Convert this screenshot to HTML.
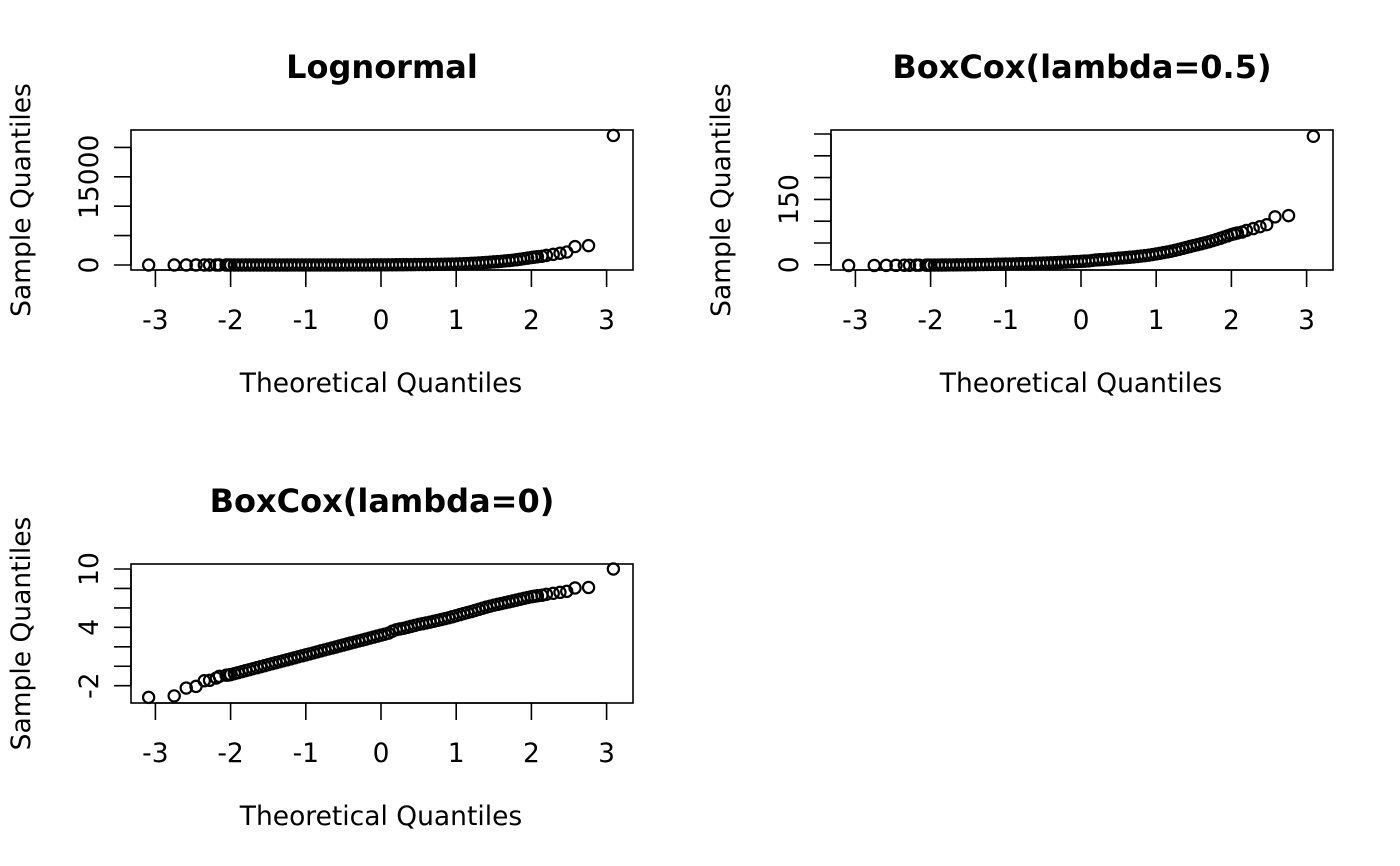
<!DOCTYPE html>
<html><head><meta charset="utf-8"><style>
html,body{margin:0;padding:0;background:#fff;}
svg{display:block;font-family:"DejaVu Sans","Liberation Sans",sans-serif;}
</style></head><body>
<svg id="chart" width="1400" height="866" viewBox="0 0 1400 866"></svg>
<script>
const theoQ = [-3.09,-2.75,-2.59,-2.46,-2.35,-2.28,-2.19,-2.15,-2.06,
-2.0,-1.9,-1.8,-1.7,-1.6,-1.5,-1.4,-1.3,-1.2,-1.1,-1.0,-0.9,-0.8,-0.7,-0.6,-0.5,-0.4,-0.3,-0.2,-0.1,0,
0.1,0.2,0.3,0.4,0.5,0.6,0.7,0.8,0.9,1.0,1.1,1.2,1.3,1.4,1.5,1.6,1.7,1.8,1.9,2.0,
2.14,2.20,2.29,2.38,2.47,2.58,2.76,3.09,
-1.95,-1.85,-1.75,-1.65,-1.55,-1.45,-1.35,-1.25,-1.15,-1.05,-0.95,-0.85,-0.75,-0.65,-0.55,-0.45,-0.35,-0.25,-0.15,-0.05,
0.05,0.15,0.25,0.35,0.45,0.55,0.65,0.75,0.85,0.95,1.05,1.15,1.25,1.35,1.45,1.55,1.65,1.75,1.85,1.95,
2.04,2.08,-2.03];
const lognormalVals = [0.04,0.05,0.11,0.13,0.23,0.23,0.3,0.35,0.40,
0.42,0.52,0.64,0.78,0.95,1.17,1.43,1.75,2.14,2.64,3.22,3.94,4.85,5.93,7.24,8.94,10.9,13.3,16.3,20.1,24.5,
30.0,42.5,49.4,60.3,73.7,85.6,101,122,145,181,226,276,347,437,534,633,750,898,1075,1274,
1480,1636,1808,1998,2208,3134,3294,22026,
0.47,0.574,0.705,0.861,1.057,1.30,1.58,1.93,2.375,2.915,3.56,4.37,5.37,6.55,8.04,9.87,12.06,14.73,18.08,22.2,
27.1,36.6,46.1,54.6,66.7,79.4,93.2,111,133,162,202,250,310,390,483,581,688,821,982,1170,
1339,1408,0.41];
const boxcoxHalfVals = [-1.6,-1.55,-1.34,-1.28,-1.04,-1.03,-0.9,-0.82,-0.74,
-0.7,-0.56,-0.4,-0.23,-0.05,0.16,0.39,0.65,0.93,1.25,1.59,1.97,2.4,2.87,3.38,3.98,4.6,5.3,6.07,6.97,7.9,
8.95,11.04,12.06,13.53,15.17,16.5,18.1,20.1,22.08,24.9,28.06,31.2,35.26,39.8,44.2,48.3,52.8,57.9,63.6,69.4,
75,78.9,83,87.4,92,110,112.8,294.8,
-0.63,-0.48,-0.32,-0.14,0.06,0.28,0.52,0.78,1.08,1.41,1.77,2.18,2.63,3.12,3.67,4.28,4.95,5.68,6.5,7.42,
8.42,10.1,11.58,12.78,14.33,15.82,17.31,19.08,21.06,23.48,26.44,29.6,33.2,37.5,41.96,46.2,50.46,55.3,60.7,66.4,
71.2,73.0,-0.72];
const boxcoxZeroVals = [-3.2,-3.05,-2.24,-2.07,-1.49,-1.45,-1.21,-1.04,-0.92,
-0.86,-0.66,-0.45,-0.25,-0.05,0.16,0.36,0.56,0.76,0.97,1.17,1.37,1.58,1.78,1.98,2.19,2.39,2.59,2.79,3.0,3.2,
3.4,3.75,3.9,4.1,4.3,4.45,4.62,4.8,4.98,5.2,5.42,5.62,5.85,6.08,6.28,6.45,6.62,6.8,6.98,7.15,
7.3,7.4,7.5,7.6,7.7,8.05,8.1,10.0,
-0.76,-0.555,-0.35,-0.15,0.055,0.26,0.46,0.66,0.865,1.07,1.27,1.475,1.68,1.88,2.085,2.29,2.49,2.69,2.895,3.10,
3.30,3.6,3.83,4.0,4.2,4.375,4.535,4.71,4.89,5.09,5.31,5.52,5.735,5.965,6.18,6.365,6.535,6.71,6.89,7.065,
7.2,7.25,-0.9];
const xTicks = [-3,-2,-1,0,1,2,3];
const yTicks1 = [0,5000,10000,15000,20000];
const yLabels1 = [0,15000];
const yTicks2 = [0,50,100,150,200,250,300];
const yLabels2 = [0,150];
const yTicks3 = [-2,0,2,4,6,8,10];
const yLabels3 = [-2,4,10];

const NS="http://www.w3.org/2000/svg";
const svg=document.getElementById('chart');
function mk(tag,attrs,parent){const e=document.createElementNS(NS,tag);for(const k in attrs)e.setAttribute(k,attrs[k]);(parent||svg).appendChild(e);return e;}

function panel(name,ox,top,bottom,title,vals,yTicks,yLabels,y0px,yVal0,pxPerUnit){
  const g=mk('g',{});
  
  
  const left=ox;
  const xs=q=>ox+250+q*75.2;
  const ys=v=>y0px-(v-yVal0)*pxPerUnit;
  const t=mk('text',{x:ox+251,y:top-52,'text-anchor':'middle','font-size':32,'font-weight':'bold'},g);
  t.textContent=title;
  
  
  const box=mk('rect',{x:left,y:top,width:502,height:bottom-top,fill:'none',stroke:'#000','stroke-width':1.6},g);
  
  
  const xa=mk('g',{},g);
  
  
  mk('line',{x1:xs(xTicks[0]),x2:xs(xTicks[xTicks.length-1]),y1:bottom,y2:bottom,stroke:'#000','stroke-width':1.6},xa);
  xTicks.forEach(v=>{
    mk('line',{x1:xs(v),x2:xs(v),y1:bottom,y2:bottom+17,stroke:'#000','stroke-width':1.6},xa);
    const l=mk('text',{x:xs(v),y:bottom+59,'text-anchor':'middle','font-size':26.5},xa);
    l.textContent=v;
    
    
  });
  const xt=mk('text',{x:ox+250,y:bottom+122,'text-anchor':'middle','font-size':26.5},g);
  xt.textContent='Theoretical Quantiles';
  
  
  const ya=mk('g',{},g);
  
  
  mk('line',{x1:left,x2:left,y1:ys(yTicks[0]),y2:ys(yTicks[yTicks.length-1]),stroke:'#000','stroke-width':1.6},ya);
  yTicks.forEach(v=>{
    mk('line',{x1:left-17,x2:left,y1:ys(v),y2:ys(v),stroke:'#000','stroke-width':1.6},ya);
  });
  yLabels.forEach(v=>{
    const l=mk('text',{x:0,y:0,'text-anchor':'middle','font-size':26.5,transform:`translate(${left-33},${ys(v)}) rotate(-90)`},ya);
    l.textContent=v;
    
    
  });
  const yt=mk('text',{x:0,y:0,'text-anchor':'middle','font-size':26.5,transform:`translate(${ox-101},${(top+bottom)/2}) rotate(-90)`},g);
  yt.textContent='Sample Quantiles';
  
  
  const pts=mk('g',{},g);
  
  
  theoQ.forEach((q,i)=>{
    const c=mk('circle',{cx:xs(q),cy:ys(vals[i]),r:5.6,fill:'none',stroke:'#000','stroke-width':2.2},pts);
    
    
  });
}
panel('panel-lognormal',131,130,270,'Lognormal',lognormalVals,yTicks1,yLabels1,265,0,29.4/5000);
panel('panel-boxcox-half',831,130,270,'BoxCox(lambda=0.5)',boxcoxHalfVals,yTicks2,yLabels2,264.8,0,21.8/50);
panel('panel-boxcox-zero',131,564,703,'BoxCox(lambda=0)',boxcoxZeroVals,yTicks3,yLabels3,685.7,-2,19.45/2);
</script>
</body></html>
